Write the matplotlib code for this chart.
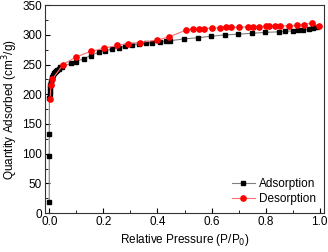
import matplotlib.pyplot as plt
from matplotlib.ticker import MultipleLocator

plt.rcParams['font.family'] = ['Liberation Sans', 'DejaVu Sans']

# adsorption branch
ads_p = [0.0, 0.0, 0.0, 0.0005, 0.001, 0.002, 0.003, 0.004, 0.005, 0.007, 0.009,
         0.011, 0.014, 0.017, 0.021, 0.025, 0.03, 0.035, 0.041, 0.047,
         0.079, 0.1, 0.128, 0.153, 0.184, 0.206, 0.231, 0.256, 0.28, 0.305,
         0.33, 0.357, 0.381, 0.41, 0.432, 0.447, 0.498, 0.55, 0.598, 0.648,
         0.698, 0.748, 0.799, 0.848, 0.873, 0.9, 0.92, 0.938, 0.959, 0.976, 0.99]
ads_q = [18, 96, 133, 194, 200, 206, 211, 215, 219, 223, 226,
         229, 232, 235, 237, 239, 241, 243, 245, 246,
         252, 255, 260, 265, 271, 273, 276, 278, 280.5, 283,
         284.5, 285.7, 286.7, 288, 289.6, 290, 293, 295, 297.5, 299.7,
         301, 302.5, 304, 305, 306, 306.4, 307.5, 308, 309, 311, 313]

# desorption branch
des_p = [0.003, 0.006, 0.011, 0.051, 0.1, 0.153, 0.204, 0.25, 0.29, 0.336,
         0.398, 0.443, 0.506, 0.531, 0.552, 0.572, 0.601, 0.632, 0.652, 0.673,
         0.703, 0.733, 0.753, 0.774, 0.802, 0.814, 0.835, 0.854, 0.887, 0.915,
         0.941, 0.972, 0.996]
des_q = [192, 215, 225, 250, 263, 272, 277.5, 282, 285, 287,
         291, 296.5, 308, 310, 310, 310.5, 311, 312, 312.6, 312.6,
         312.6, 313.6, 313.6, 313.6, 314, 314, 314, 314.8, 315.3, 316,
         317, 320, 314]

fig = plt.figure(figsize=(3.28, 2.52), dpi=100)
ax = fig.add_axes([0.137, 0.154, 0.851, 0.826])

ax.plot(ads_p, ads_q, color='#808080', lw=0.8, marker='s', ms=3.2,
        mfc='black', mec='black', label='Adsorption')
ax.plot(des_p, des_q, color='#ff7070', lw=0.8, marker='o', ms=3.8,
        mfc='red', mec='red', label='Desorption')

ax.set_xlim(-0.016, 1.016)
ax.set_ylim(0, 350)
ax.xaxis.set_major_locator(MultipleLocator(0.2))
ax.xaxis.set_minor_locator(MultipleLocator(0.1))
ax.yaxis.set_major_locator(MultipleLocator(50))
ax.yaxis.set_minor_locator(MultipleLocator(25))
ax.tick_params(which='both', direction='in', labelsize=8.5, pad=2)
ax.tick_params(which='major', length=3.5)
ax.tick_params(which='minor', length=2)
for s in ax.spines.values():
    s.set_color('#333333')

ax.set_xlabel('Relative Pressure (P/P$_0$)', fontsize=8.5, labelpad=3)
ax.set_ylabel('Quantity Adsorbed (cm$^3$/g)', fontsize=8.5, labelpad=2)

ax.legend(loc='lower right', frameon=False, fontsize=8.5, handlelength=2.0,
          handletextpad=0.3, labelspacing=0.25, borderaxespad=0.3,
          bbox_to_anchor=(1.0, 0.0))

fig.savefig('out.png', dpi=100)
